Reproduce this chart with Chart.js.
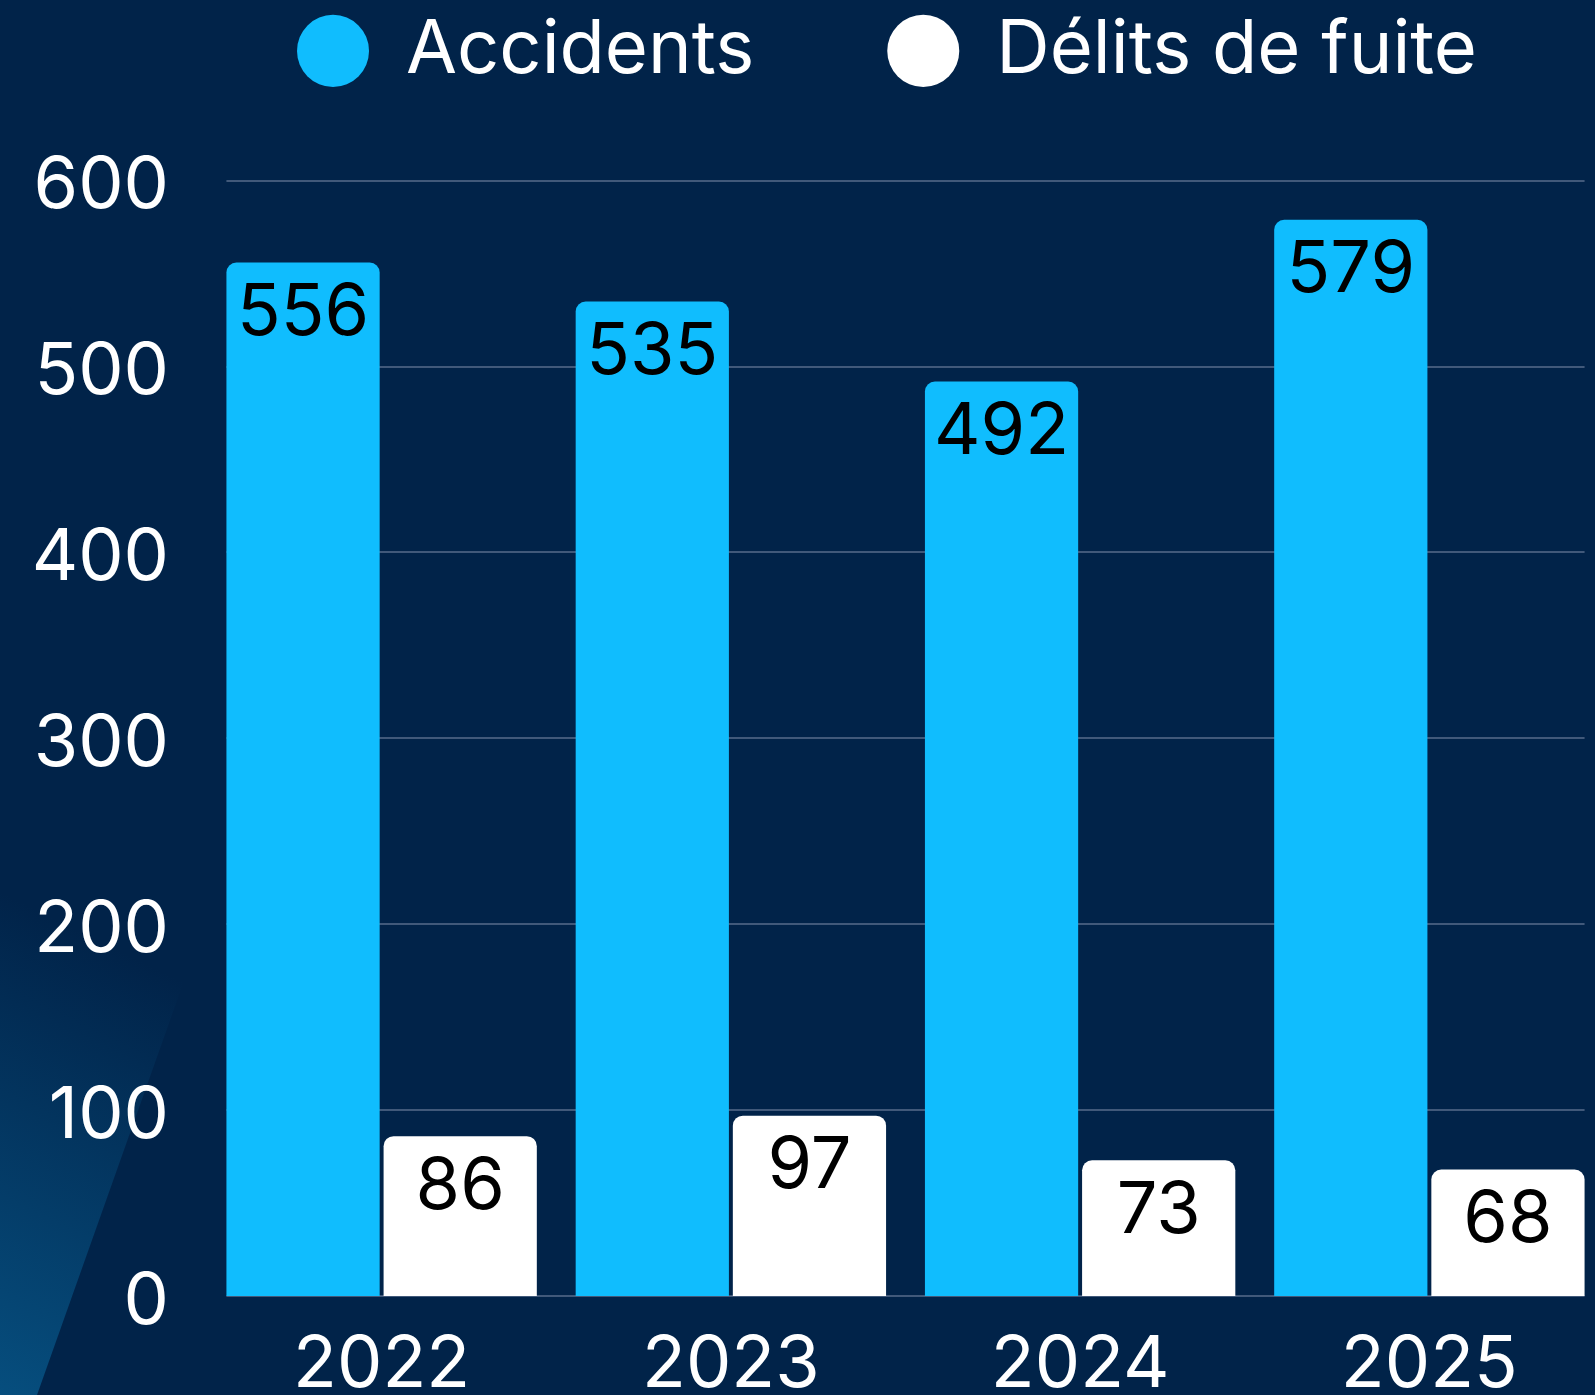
<!DOCTYPE html>
<html><head><meta charset="utf-8">
<script src="https://cdn.jsdelivr.net/npm/chart.js@4.4.1/dist/chart.umd.min.js"></script>
<style>
html,body{margin:0;padding:0;overflow:hidden;background:#012349;width:1595px;height:1395px}
canvas{display:block}
</style>
</head><body>
<canvas id="c" width="1774" height="1395"></canvas>
<script>
const categories = ['2022', '2023', '2024', '2025'];
const accidents = [556, 535, 492, 579];
const delits = [86, 97, 73, 68];
const seriesNames = ['Accidents', 'Délits de fuite'];
const yTicks = [0, 100, 200, 300, 400, 500, 600];

const FONT = "Inter, 'Noto Sans', sans-serif";
const NAVY = '#012349';
const CYAN = '#10BDFE';
const GRID = '#41597a';

const bgPlugin = {
  id: 'bg',
  beforeDraw(chart) {
    const ctx = chart.ctx;
    ctx.save();
    ctx.fillStyle = NAVY;
    ctx.fillRect(0, 0, chart.width, chart.height);
    const g = ctx.createLinearGradient(0, 1395, 200, 990);
    g.addColorStop(0, 'rgba(6,78,126,1)');
    g.addColorStop(1, 'rgba(6,78,126,0)');
    ctx.fillStyle = g;
    ctx.beginPath();
    ctx.moveTo(0, 1395);
    ctx.lineTo(37, 1395);
    ctx.lineTo(250, 795);
    ctx.lineTo(0, 795);
    ctx.closePath();
    ctx.fill();
    ctx.restore();
  }
};

const gridPlugin = {
  id: 'customGrid',
  beforeDatasetsDraw(chart) {
    const ctx = chart.ctx;
    const y = chart.scales.y;
    const first = chart.getDatasetMeta(0).data[0];
    const lastMeta = chart.getDatasetMeta(chart.data.datasets.length - 1).data;
    const last = lastMeta[lastMeta.length - 1];
    const x0 = first.x - first.width / 2;
    const x1 = last.x + last.width / 2;
    ctx.save();
    ctx.strokeStyle = GRID;
    ctx.lineWidth = 2;
    y.ticks.forEach(t => {
      const py = Math.round(y.getPixelForValue(t.value));
      ctx.beginPath();
      ctx.moveTo(x0, py);
      ctx.lineTo(x1, py);
      ctx.stroke();
    });
    ctx.restore();
  }
};

const labelPlugin = {
  id: 'barLabels',
  afterDatasetsDraw(chart) {
    const ctx = chart.ctx;
    ctx.save();
    ctx.fillStyle = '#000';
    ctx.font = '72px ' + FONT;
    ctx.textAlign = 'center';
    ctx.textBaseline = 'middle';
    chart.data.datasets.forEach((ds, i) => {
      chart.getDatasetMeta(i).data.forEach((bar, j) => {
        ctx.fillText(String(ds.data[j]), bar.x, bar.y + 51);
      });
    });
    ctx.restore();
  }
};

new Chart(document.getElementById('c'), {
  type: 'bar',
  data: {
    labels: categories,
    datasets: [
      { label: seriesNames[0], data: accidents, backgroundColor: CYAN, borderWidth: 0, borderRadius: 10,
        categoryPercentage: 0.9, barPercentage: 0.975 },
      { label: seriesNames[1], data: delits, backgroundColor: '#ffffff', borderWidth: 0, borderRadius: 10,
        categoryPercentage: 0.9, barPercentage: 0.975 }
    ]
  },
  plugins: [bgPlugin, gridPlugin, labelPlugin],
  options: {
    responsive: false,
    animation: false,
    layout: { padding: { top: -119.1, left: 0, right: 0, bottom: 0 } },
    plugins: {
      tooltip: { enabled: false },
      legend: {
        position: 'top',
        align: 'center',
        labels: {
          color: '#ffffff',
          font: { family: FONT, size: 74 },
          usePointStyle: true,
          pointStyle: 'circle',
          boxHeight: 51,
          pointStyleWidth: 72,
          padding: 133
        }
      },
      subtitle: {
        display: true,
        text: '',
        weight: 500,
        font: { size: 10, lineHeight: 1 },
        padding: { top: 72.8, bottom: 0 }
      },
      title: {
        display: true,
        text: '',
        position: 'right',
        font: { size: 10, lineHeight: 1 },
        padding: { top: 160, bottom: 0 }
      }
    },
    scales: {
      x: {
        grid: { display: false, drawTicks: false },
        border: { display: false },
        ticks: { color: '#ffffff', font: { family: FONT, size: 72, lineHeight: 1.2 }, padding: 26, maxRotation: 0 },
        afterFit: s => { s.height = 99; }
      },
      y: {
        min: 0, max: 600,
        grid: { display: false, drawTicks: false },
        border: { display: false },
        ticks: { color: '#ffffff', font: { family: FONT, size: 72 }, padding: 38, labelOffset: 6 },
        afterBuildTicks: s => { s.ticks = yTicks.map(v => ({ value: v })); },
        afterFit: s => { s.width = 207; }
      }
    }
  }
});
</script>
</body></html>
